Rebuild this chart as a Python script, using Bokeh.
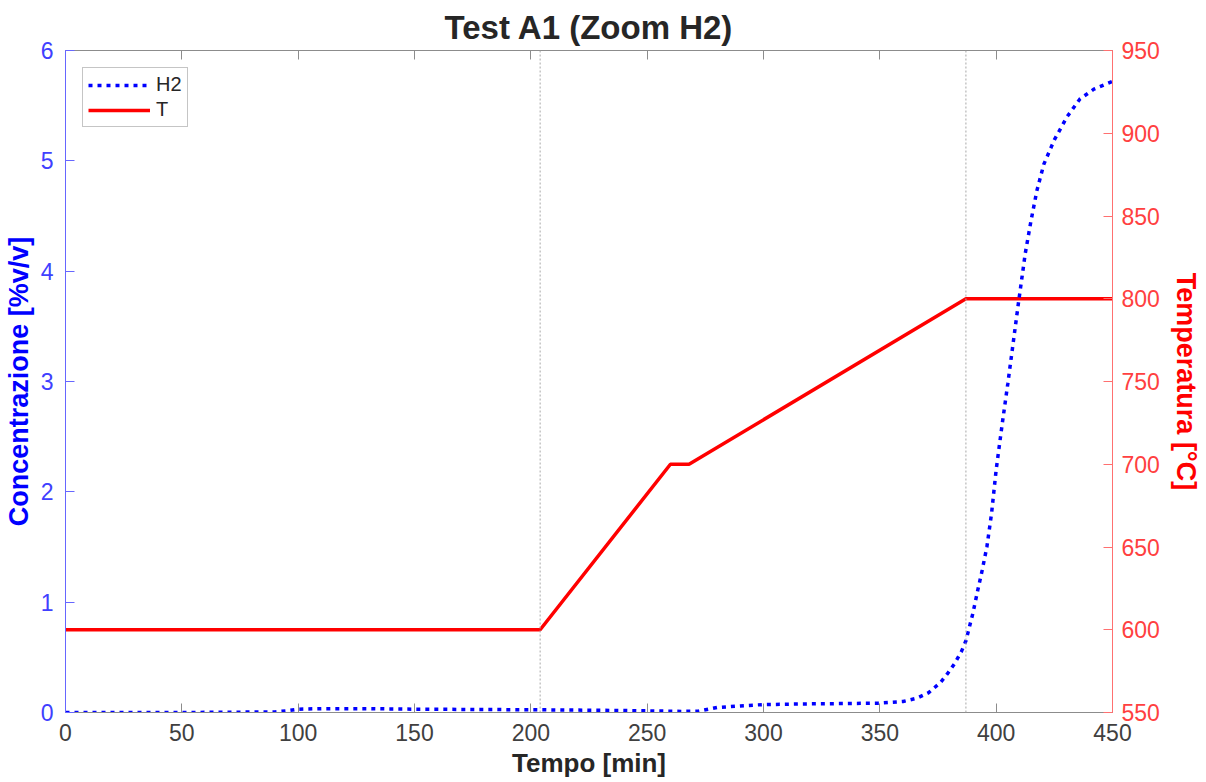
from bokeh.plotting import figure
from bokeh.models import Range1d, LinearAxis, FixedTicker, Span, Legend, LegendItem
from bokeh.embed import file_html
from bokeh.resources import INLINE

# ---- data ----
t_h2 = [0, 50, 90, 95, 100, 110, 130, 150, 180, 200, 230, 250, 265, 272, 280, 290,
        300, 320, 350, 360, 366, 371, 376, 379, 382, 385, 387, 390, 392, 394, 396,
        398, 400, 402.5, 405, 407, 409.5, 412.5, 415, 417.5, 420.5, 425, 430.5, 436,
        442, 450]
h2 = [0.0, 0.0, 0.005, 0.015, 0.03, 0.035, 0.035, 0.03, 0.027, 0.025, 0.02, 0.015,
      0.01, 0.012, 0.045, 0.06, 0.072, 0.078, 0.085, 0.1, 0.13, 0.18, 0.27, 0.35,
      0.44, 0.55, 0.65, 0.9, 1.1, 1.29, 1.5, 1.8, 2.2, 2.6, 2.98, 3.3, 3.7, 4.16,
      4.46, 4.73, 4.97, 5.19, 5.40, 5.56, 5.65, 5.72]

t_temp = [0, 204, 260, 268, 387, 450]
temp = [600, 600, 700, 700, 800, 800]

markers = [204, 387]

x_ticks = [0, 50, 100, 150, 200, 250, 300, 350, 400, 450]
y_ticks = [0, 1, 2, 3, 4, 5, 6]
t_ticks = [550, 600, 650, 700, 750, 800, 850, 900, 950]

FONT = "Liberation Sans"

p = figure(width=1204, height=782, output_backend="svg", toolbar_location=None,
           x_range=Range1d(0, 450), y_range=Range1d(0, 6),
           min_border_left=65, min_border_right=92, min_border_top=50,
           min_border_bottom=70)
p.extra_y_ranges = {"T": Range1d(550, 950)}
p.grid.grid_line_color = None
p.outline_line_color = "#8c8c8c"
p.background_fill_color = "white"

p.title.text = "Test A1 (Zoom H2)"
p.title.align = "center"
p.title.text_font = FONT
p.title.text_font_size = "33px"
p.title.text_font_style = "bold"
p.title.text_color = "#262626"

# bottom axis
xa = p.xaxis[0]
xa.ticker = FixedTicker(ticks=x_ticks)
xa.minor_tick_line_color = None
xa.major_tick_in = 9
xa.major_tick_out = 0
xa.axis_line_color = "#8c8c8c"
xa.major_tick_line_color = "#8c8c8c"
xa.major_label_text_font = FONT
xa.major_label_text_font_size = "23px"
xa.major_label_text_color = "#404040"
xa.major_label_standoff = 11
xa.axis_label = "Tempo [min]"
xa.axis_label_text_font = FONT
xa.axis_label_text_font_size = "26px"
xa.axis_label_text_font_style = "bold"
xa.axis_label_text_color = "#262626"
xa.axis_label_standoff = 4

# left axis
ya = p.yaxis[0]
ya.ticker = FixedTicker(ticks=y_ticks)
ya.minor_tick_line_color = None
ya.major_tick_in = 9
ya.major_tick_out = 0
ya.axis_line_color = "#6666ff"
ya.major_tick_line_color = "#6666ff"
ya.major_label_text_font = FONT
ya.major_label_text_font_size = "23px"
ya.major_label_text_color = "#4040ff"
ya.major_label_standoff = 12
ya.axis_label = "Concentrazione [%v/v]"
ya.axis_label_text_font = FONT
ya.axis_label_text_font_size = "27px"
ya.axis_label_text_font_style = "bold"
ya.axis_label_text_color = "#0000ff"
ya.axis_label_standoff = 4

# right axis
ra = LinearAxis(y_range_name="T", ticker=FixedTicker(ticks=t_ticks))
ra.minor_tick_line_color = None
ra.major_tick_in = 9
ra.major_tick_out = 0
ra.axis_line_color = "#ff7070"
ra.major_tick_line_color = "#ff7070"
ra.major_label_text_font = FONT
ra.major_label_text_font_size = "23px"
ra.major_label_text_color = "#ff4040"
ra.major_label_standoff = 9
ra.axis_label = "Temperatura [°C]"
ra.axis_label_text_font = FONT
ra.axis_label_text_font_size = "27px"
ra.axis_label_text_font_style = "bold"
ra.axis_label_text_color = "#ff0000"
ra.axis_label_standoff = 8
p.add_layout(ra, "right")

# top axis (ticks only)
ta = LinearAxis(ticker=FixedTicker(ticks=x_ticks))
ta.minor_tick_line_color = None
ta.major_tick_in = 9
ta.major_tick_out = 0
ta.axis_line_color = "#8c8c8c"
ta.major_tick_line_color = "#8c8c8c"
ta.major_label_overrides = {t: "" for t in x_ticks}
ta.major_label_standoff = 0
p.add_layout(ta, "above")

for m in markers:
    p.add_layout(Span(location=m, dimension="height", line_color="#a8a8a8",
                      line_width=1, line_dash="2 2"))

r_t = p.line(t_temp, temp, y_range_name="T", line_color="#ff0000", line_width=3.5)
r_h = p.line(t_h2, h2, line_color="#0000ff", line_width=3.5, line_dash="4 5")

legend = Legend(items=[LegendItem(label="H2", renderers=[r_h]),
                       LegendItem(label="T", renderers=[r_t])],
                location="top_left")
legend.margin = 17
legend.padding = 5
legend.spacing = 2
legend.glyph_width = 62
legend.glyph_height = 20
legend.label_height = 20
legend.label_standoff = 6
legend.label_text_font = FONT
legend.label_text_font_size = "20px"
legend.label_text_color = "#262626"
legend.border_line_color = "#8c8c8c"
legend.border_line_width = 1.5
legend.background_fill_color = "white"
legend.background_fill_alpha = 1
p.add_layout(legend)

open("out.html", "w").write(file_html(p, INLINE))
